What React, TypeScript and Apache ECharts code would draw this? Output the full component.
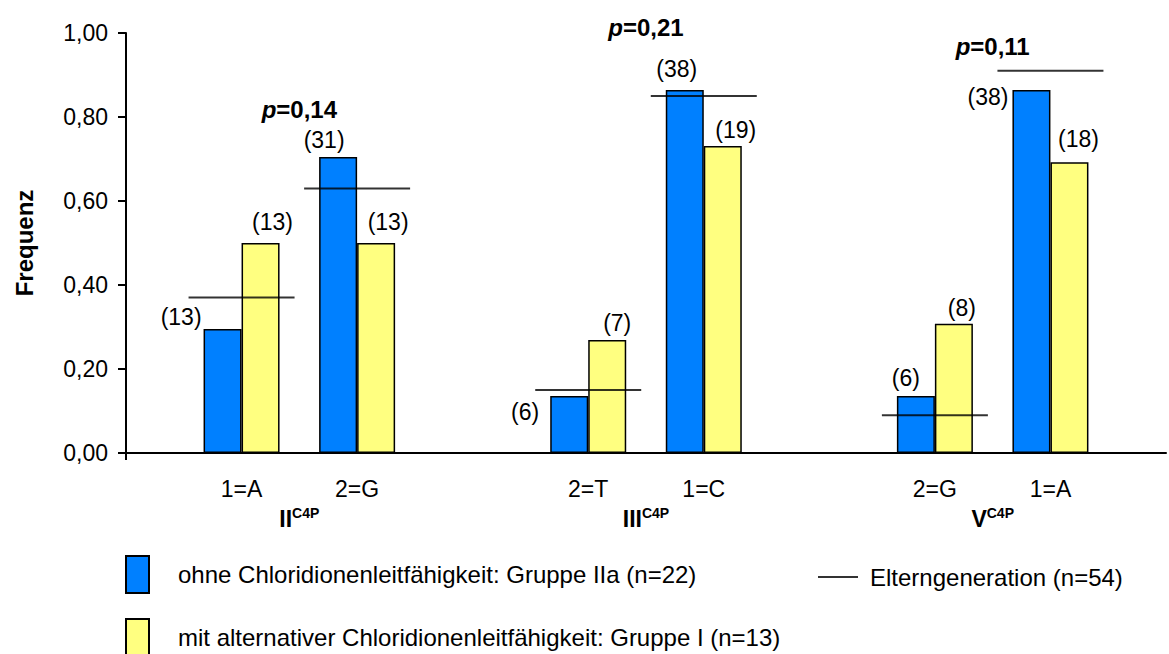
import React, { useEffect, useRef } from 'react';
import * as echarts from 'echarts';

// ---- data ----
const categories = ['', '1=A', '2=G', '', '2=T', '1=C', '', '2=G', '1=A', ''];
const alleleSlots = [1, 2, 4, 5, 7, 8];
const blueName = 'ohne Chloridionenleitfähigkeit: Gruppe IIa (n=22)';
const yellowName = 'mit alternativer Chloridionenleitfähigkeit: Gruppe I (n=13)';
const parentName = 'Elterngeneration (n=54)';
const blueValues = [0.295, 0.705, 0.136, 0.864, 0.136, 0.864];
const yellowValues = [0.5, 0.5, 0.269, 0.731, 0.308, 0.692];
const parentValues = [0.37, 0.63, 0.15, 0.85, 0.09, 0.91];
const blueCounts = ['(13)', '(31)', '(6)', '(38)', '(6)', '(38)'];
const yellowCounts = ['(13)', '(13)', '(7)', '(19)', '(8)', '(18)'];
const groupNames = ['II', 'III', 'V'];
const groupSuper = 'C4P';
const groupSlots = [[1, 2], [4, 5], [7, 8]];
const pTexts = ['=0,14', '=0,21', '=0,11'];
const pLevels = [0.817, 1.014, 0.969];

// ---- label placements (style only): [dx, dy, align] relative to bar top-left ----
const bluePlace: [number, number, string][] = [
  [-2, -12, 'right'],
  [5, -17, 'center'],
  [-11, 16, 'right'],
  [11, -21, 'center'],
  [9, -18, 'center'],
  [-4, 7, 'right'],
];
const yellowPlace: [number, number, string][] = [
  [31, -21, 'center'],
  [31, -21, 'center'],
  [29, -17, 'center'],
  [32, -16, 'center'],
  [27, -16, 'center'],
  [28, -23, 'center'],
];

const FONT = "'Liberation Sans', Arial, Helvetica, sans-serif";

export default function App() {
  const ref = useRef<HTMLDivElement>(null);
  useEffect(() => {
    const el = ref.current!;
    const chart = echarts.init(el, null, { renderer: 'svg' });
    const slotOf = (ci: number) => alleleSlots.indexOf(ci);
    const buildBar = (values: number[], counts: string[], place: [number, number, string][]) =>
      categories.map((_, ci) => {
        const j = slotOf(ci);
        if (j < 0) return '-';
        const p = place[j];
        return {
          value: values[j],
          label: {
            show: true,
            formatter: counts[j],
            position: [p[0], p[1]],
            align: p[2],
            verticalAlign: 'middle',
            fontSize: 23,
            color: '#000',
            fontFamily: FONT,
          },
        };
      });
    const parentData = categories.map((_, ci) => {
      const j = slotOf(ci);
      return j < 0 ? '-' : parentValues[j];
    });
    const legendText = { fontSize: 24, color: '#000', fontFamily: FONT };

    chart.setOption({
      animation: false,
      textStyle: { fontFamily: FONT },
      grid: { left: 126, top: 33, width: 1051, height: 420, containLabel: false },
      xAxis: {
        type: 'category',
        data: categories,
        boundaryGap: false,
        axisLine: { lineStyle: { color: '#000', width: 2 } },
        axisTick: {
          show: true,
          length: 7,
          interval: (i: number) => i === 0,
          lineStyle: { color: '#000', width: 2 },
        },
        axisLabel: { interval: 0, color: '#000', fontSize: 23, margin: 24, fontFamily: FONT },
        splitLine: { show: false },
      },
      yAxis: {
        type: 'value',
        min: 0,
        max: 1,
        interval: 0.2,
        name: 'Frequenz',
        nameLocation: 'middle',
        nameGap: 90,
        nameRotate: 90,
        nameTextStyle: { fontSize: 24, fontWeight: 'bold', color: '#000', fontFamily: FONT },
        axisLine: { show: true, lineStyle: { color: '#000', width: 2 } },
        axisTick: { show: true, length: 8, lineStyle: { color: '#000', width: 2 } },
        axisLabel: {
          color: '#000',
          fontSize: 23,
          margin: 18,
          fontFamily: FONT,
          formatter: (v: number) => v.toFixed(2).replace('.', ','),
        },
        splitLine: { show: false },
      },
      legend: [
        {
          data: [blueName],
          left: 120,
          top: 550,
          icon: 'rect',
          itemWidth: 23,
          itemHeight: 37,
          selectedMode: false,
          textStyle: { ...legendText, padding: [0, 0, 0, 24] },
        },
        {
          data: [yellowName],
          left: 120,
          top: 613,
          icon: 'rect',
          itemWidth: 23,
          itemHeight: 37,
          selectedMode: false,
          textStyle: { ...legendText, padding: [0, 0, 0, 24] },
        },
        {
          data: [{ name: parentName, icon: 'path://M0,0 L40,0 L40,2 L0,2 Z' }],
          left: 813,
          top: 560,
          itemWidth: 40,
          itemHeight: 2,
          selectedMode: false,
          textStyle: { ...legendText, padding: [0, 0, 0, 7] },
        },
      ],
      series: [
        {
          name: blueName,
          type: 'bar',
          barWidth: 38,
          barGap: '0%',
          itemStyle: { color: '#0080ff', borderColor: '#000', borderWidth: 1.5 },
          data: buildBar(blueValues, blueCounts, bluePlace),
          z: 2,
        },
        {
          name: yellowName,
          type: 'bar',
          barWidth: 38,
          barGap: '0%',
          itemStyle: { color: '#ffff80', borderColor: '#000', borderWidth: 1.5 },
          data: buildBar(yellowValues, yellowCounts, yellowPlace),
          z: 2,
        },
        {
          name: parentName,
          type: 'scatter',
          symbol: 'rect',
          symbolSize: [106, 2],
          itemStyle: { color: '#000' },
          data: parentData,
          z: 5,
          silent: true,
        },
      ],
    });

    const toPx = (ci: number, v: number) =>
      chart.convertToPixel({ xAxisIndex: 0, yAxisIndex: 0 }, [ci, v]) as number[];
    const graphics: any[] = [];
    groupSlots.forEach((s, g) => {
      const x = (toPx(s[0], 0)[0] + toPx(s[1], 0)[0]) / 2;
      const yP = toPx(s[0], pLevels[g])[1];
      graphics.push({
        type: 'text',
        x,
        y: yP,
        style: {
          text: '{i|p}{b|' + pTexts[g] + '}',
          align: 'center',
          verticalAlign: 'middle',
          fill: '#000',
          rich: {
            i: { fontStyle: 'italic', fontWeight: 'bold', fontSize: 24, fontFamily: FONT, fill: '#000' },
            b: { fontWeight: 'bold', fontSize: 24, fontFamily: FONT, fill: '#000' },
          },
        },
      });
      const yG = toPx(s[0], 0)[1] + 66;
      graphics.push({
        type: 'text',
        x,
        y: yG,
        style: {
          text: '{m|' + groupNames[g] + '}{s|' + groupSuper + '}',
          align: 'center',
          verticalAlign: 'middle',
          fill: '#000',
          rich: {
            m: { fontWeight: 'bold', fontSize: 23, fontFamily: FONT, fill: '#000', lineHeight: 26 },
            s: { fontWeight: 'bold', fontSize: 14, fontFamily: FONT, fill: '#000', verticalAlign: 'top', lineHeight: 16 },
          },
        },
      });
    });
    chart.setOption({ graphic: graphics });

    return () => chart.dispose();
  }, []);
  return (
    <div
      ref={ref}
      style={{ position: 'fixed', left: 0, top: 0, width: 1169, height: 654, background: '#fff' }}
    />
  );
}
